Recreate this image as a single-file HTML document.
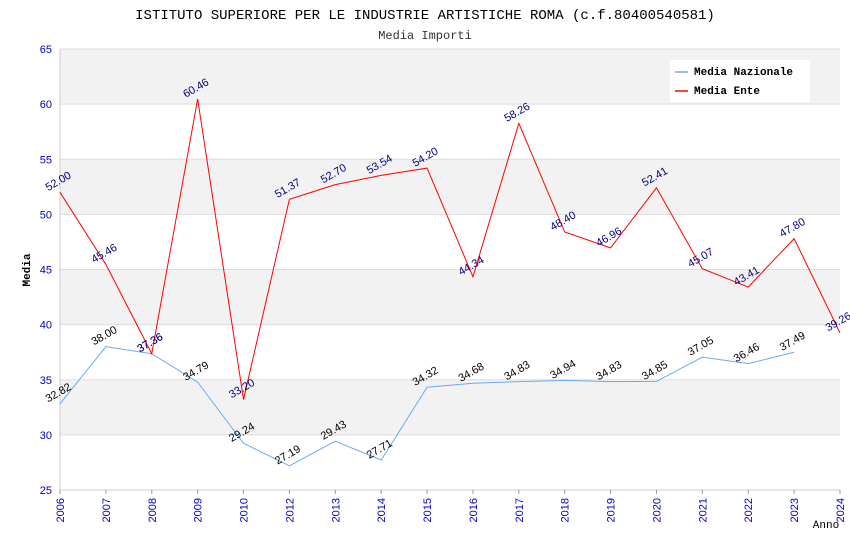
<!DOCTYPE html>
<html><head><meta charset="utf-8">
<style>
body{margin:0;background:#fff;}
svg{display:block;font-family:"Liberation Sans",sans-serif;}
.mono{font-family:"Liberation Mono","DejaVu Sans Mono",monospace;}
</style></head>
<body>
<svg id="chart" width="850" height="550" xmlns="http://www.w3.org/2000/svg">
<text class="mono" x="425" y="19" text-anchor="middle" font-size="14" fill="#000">ISTITUTO SUPERIORE PER LE INDUSTRIE ARTISTICHE ROMA (c.f.80400540581)</text>
<text class="mono" x="425" y="39" text-anchor="middle" font-size="12" fill="#333">Media Importi</text>
<g id="bands"></g>
<g id="grid"></g>
<g id="axes"></g>
<g id="series"></g>
<text class="mono" x="30" y="270" text-anchor="middle" font-size="11" font-weight="bold" transform="rotate(-90 30 270)">Media</text>
<text class="mono" x="826" y="528" text-anchor="middle" font-size="11">Anno</text>
<g>
<rect x="670" y="60" width="140" height="42" fill="#fff"/>
<line x1="675" y1="72" x2="688" y2="72" stroke="#6aaaf0" stroke-width="1.5"/>
<text class="mono" x="694" y="75" font-size="11" font-weight="bold">Media Nazionale</text>
<line x1="675" y1="91" x2="688" y2="91" stroke="#f00" stroke-width="1.5"/>
<text class="mono" x="694" y="94" font-size="11" font-weight="bold">Media Ente</text>
</g>
</svg>
<script>
const categories=["2006","2007","2008","2009","2010","2012","2013","2014","2015","2016","2017","2018","2019","2020","2021","2022","2023","2024"];
const nazionale=[32.82,38.00,37.36,34.79,29.24,27.19,29.43,27.71,34.32,34.68,34.83,34.94,34.83,34.85,37.05,36.46,37.49,null];
const ente=[52.00,45.46,37.36,60.46,33.20,51.37,52.70,53.54,54.20,44.34,58.26,48.40,46.96,52.41,45.07,43.41,47.80,39.26];
const yTicks=[25,30,35,40,45,50,55,60,65];
const NS="http://www.w3.org/2000/svg";
const L=60,R=840,T=49,B=490,yMin=25,yMax=65;
const x=i=>L+i*(R-L)/(categories.length-1);
const y=v=>B-(v-yMin)/(yMax-yMin)*(B-T);
function mk(tag,attrs,parent){const e=document.createElementNS(NS,tag);for(const k in attrs)e.setAttribute(k,attrs[k]);document.getElementById(parent).appendChild(e);return e;}
for(let i=0;i<yTicks.length-1;i++){
 if(yTicks[i]%10===0){
  const r=mk('rect',{x:L,y:y(yTicks[i+1]),width:R-L,height:y(yTicks[i])-y(yTicks[i+1]),fill:'#f2f2f2'},'bands');
  
  
 }
}
yTicks.forEach(t=>{
 const g=mk('line',{x1:L,x2:R,y1:y(t),y2:y(t),stroke:'#ddd','stroke-width':1},'grid');
 
 
 const tx=mk('text',{x:L-8,y:y(t)+4,'text-anchor':'end','font-size':11,fill:'#00c'},'axes');
 tx.textContent=t;
 
 
});
mk('line',{x1:L,x2:L,y1:T,y2:B,stroke:'#ccc'},'axes');
mk('line',{x1:L,x2:R,y1:B,y2:B,stroke:'#ccc'},'axes');
categories.forEach((c,i)=>{
 mk('line',{x1:x(i),x2:x(i),y1:B,y2:B+4,stroke:'#999'},'axes');
 const tx=mk('text',{x:x(i)+4,y:B+8,'text-anchor':'end','font-size':11,fill:'#00c',transform:`rotate(-90 ${x(i)+4} ${B+8})`},'axes');
 tx.textContent=c;
 
 
});
function series(data,color,labelColor,name){
 let d='';data.forEach((v,i)=>{if(v==null)return;d+=(d?'L':'M')+x(i)+' '+y(v);});
 const p=mk('path',{d:d,fill:'none',stroke:color,'stroke-width':1},'series');
 
 
 data.forEach((v,i)=>{if(v==null)return;
  const px=x(i),py=y(v)-8;
  const t=mk('text',{x:px,y:py,'text-anchor':'middle','font-size':11,fill:labelColor,transform:`rotate(-30 ${px} ${py})`},'series');
  t.textContent=v.toFixed(2);
  
  
 });
}
series(nazionale,'#6aaaf0','#000','nazionale');
series(ente,'#f00','#000080','ente');
</script>
</body></html>
